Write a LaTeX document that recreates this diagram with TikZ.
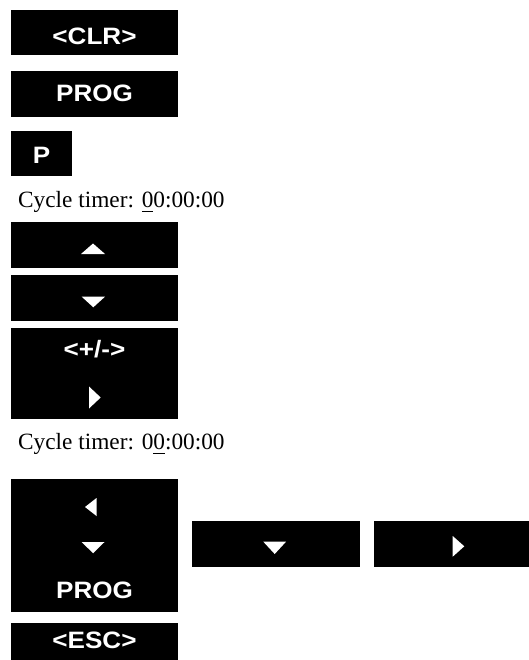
\documentclass[tikz,border=0pt]{standalone}
\usepackage{fontspec}
\setmainfont{Liberation Serif}
\newfontfamily\keyfont{Liberation Sans}[FakeStretch=1.1]
\newsavebox\digitbox
\newcommand\curdigit[1]{\sbox\digitbox{#1}\rlap{\rule[-5pt]{\wd\digitbox}{1.5pt}}\usebox\digitbox}
\begin{document}
\begin{tikzpicture}[x=1pt,y=-1pt,
  keybox/.style={fill=black, draw=none, rectangle, inner sep=0pt, anchor=north west},
  keylabel/.style={text=white, anchor=base, inner sep=0pt, font=\keyfont\bfseries\fontsize{23.7}{28}\selectfont},
  timer/.style={anchor=base west, inner sep=0pt, font=\fontsize{23.3}{28}\selectfont},
  tri/.style={fill=white}]
\useasboundingbox (0,0) rectangle (529,660);
% key boxes
\node[keybox, minimum width=167pt, minimum height=45pt] (clr) at (11,10) {};
\node[keybox, minimum width=167pt, minimum height=46pt] (prog) at (11,71) {};
\node[keybox, minimum width=61pt, minimum height=45pt] (pkey) at (11,131) {};
\node[keybox, minimum width=167pt, minimum height=46pt] (upkey) at (11,222) {};
\node[keybox, minimum width=167pt, minimum height=46pt] (downkey) at (11,275) {};
\node[keybox, minimum width=167pt, minimum height=91pt] (pmkey) at (11,328) {};
\node[keybox, minimum width=167pt, minimum height=133pt] (bigkey) at (11,479) {};
\node[keybox, minimum width=168pt, minimum height=46pt] (bdown) at (192,521) {};
\node[keybox, minimum width=155pt, minimum height=46pt] (bright) at (374,521) {};
\node[keybox, minimum width=167pt, minimum height=37pt] (esc) at (11,623) {};
% labels
\node[keylabel] (clrtext) at (94.5,44.3) {<CLR>};
\node[keylabel] (progtext) at (94.5,101.7) {PROG};
\node[keylabel] (ptext) at (41.5,164) {P};
\node[keylabel] (pmtext) at (94.5,357) {<+/->};
\node[keylabel] (prog2text) at (94.5,598.3) {PROG};
\node[keylabel] (esctext) at (94.5,648.3) {<ESC>};
% timer texts
\node[timer] (timer1) at (18,207.5) {Cycle timer: \curdigit{0}0:00:00};
\node[timer] (timer2) at (18,449) {Cycle timer: 0\curdigit{0}:00:00};
% triangles
\fill[tri] (81,254) -- (93,243.5) -- (105,254) -- cycle;
\fill[tri] (81.7,296.7) -- (105,296.7) -- (93.3,307.3) -- cycle;
\fill[tri] (89,386.5) -- (100.7,397.5) -- (89,408.5) -- cycle;
\fill[tri] (96.5,498) -- (85,507) -- (96.5,516) -- cycle;
\fill[tri] (81.7,542) -- (104.5,542) -- (93.1,553.3) -- cycle;
\fill[tri] (263.3,541.7) -- (286,541.7) -- (274.7,554) -- cycle;
\fill[tri] (452.7,536) -- (464.3,546.3) -- (452.7,556.7) -- cycle;
\end{tikzpicture}
\end{document}
